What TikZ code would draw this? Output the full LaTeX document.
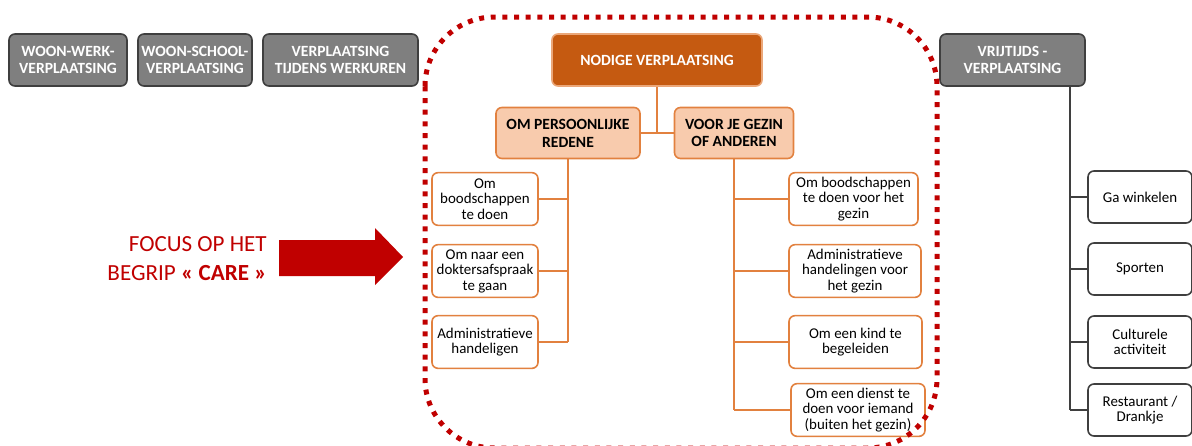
\documentclass[tikz,border=0pt]{standalone}
\usepackage{fontspec}
\setmainfont{Carlito}
\usepackage{xcolor}
\usetikzlibrary{arrows,shapes}

\definecolor{grijs}{HTML}{7F7F7F}
\definecolor{donkergrijs}{HTML}{3F3F3F}
\definecolor{donkeroranje}{HTML}{C55A11}
\definecolor{oranje}{HTML}{E2813F}
\definecolor{perzik}{HTML}{F8CBAD}
\definecolor{rood}{HTML}{C00000}

\tikzset{
  box/.style={rounded corners=4.5pt, line width=1.2pt, align=center, inner sep=0pt,
    font=\fontsize{11.2}{11.6}\selectfont},
  graybox/.style={box, draw=donkergrijs, fill=grijs, text=white,
    font=\bfseries\fontsize{11.7}{13.4}\selectfont, minimum height=39pt},
  mainbox/.style={box, draw=oranje!70, fill=donkeroranje, text=white,
    font=\bfseries\fontsize{11.7}{13.4}\selectfont, minimum height=39pt},
  subbox/.style={box, draw=oranje, fill=perzik,
    font=\bfseries\fontsize{11.7}{13.4}\selectfont, minimum height=38.25pt},
  itembox/.style={box, draw=oranje, fill=white, minimum height=39.5pt},
  vrijbox/.style={box, draw=donkergrijs, fill=white, minimum width=78pt, minimum height=39pt},
  link/.style={draw=oranje, line width=1.2pt},
  vrijlink/.style={draw=donkergrijs, line width=1pt},
  focus/.style={text=rood, align=right, inner sep=0pt, font=\fontsize{17.3}{21.7}\selectfont}
}

\begin{document}
\begin{tikzpicture}[x=0.75pt, y=-0.75pt]
  \useasboundingbox (0,0) rectangle (1192,446);
  \clip (0,0) rectangle (1192,446);

  % andere verplaatsingen
  \node[graybox, minimum width=88.5pt]  (ww) at (68,60)    {WOON-WERK-\\VERPLAATSING};
  \node[graybox, minimum width=85.5pt]  (ws) at (195,60)   {WOON-SCHOOL-\\VERPLAATSING};
  \node[graybox, minimum width=116.25pt] (wt) at (340.5,60) {VERPLAATSING\\TIJDENS WERKUREN};
  \node[graybox, minimum width=108.75pt] (vt) at (1012.5,60) {VRIJTIJDS -\\VERPLAATSING};

  % nodige verplaatsing
  \node[mainbox, minimum width=157.5pt] (nv) at (657,60) {NODIGE VERPLAATSING};
  \node[subbox, minimum width=108pt]    (op) at (568,133) {OM PERSOONLIJKE\\REDENE};
  \node[subbox, minimum width=89.25pt]  (vg) at (734,133) {VOOR JE GEZIN\\OF ANDEREN};

  \node[itembox, minimum width=79.5pt] (l1) at (485,199) {Om\\boodschappen\\te doen};
  \node[itembox, minimum width=79.5pt] (l2) at (485,271) {Om naar een\\doktersafspraak\\te gaan};
  \node[itembox, minimum width=79.5pt] (l3) at (485,342) {Administratieve\\handeligen};

  \node[itembox, minimum width=96.75pt] (r1) at (853.5,199) {Om boodschappen\\te doen voor het\\gezin};
  \node[itembox, minimum width=99pt]    (r2) at (855,271)   {Administratieve\\handelingen voor\\het gezin};
  \node[itembox, minimum width=99.75pt] (r3) at (855.5,342) {Om een kind te\\begeleiden};
  \node[itembox, minimum width=100.5pt] (r4) at (858,410)   {Om een dienst te\\doen voor iemand\\(buiten het gezin)};

  % vrije tijd
  \node[vrijbox] (g1) at (1140,197) {Ga winkelen};
  \node[vrijbox] (g2) at (1140,269) {Sporten};
  \node[vrijbox] (g3) at (1140,342) {Culturele\\activiteit};
  \node[vrijbox] (g4) at (1140,410) {Restaurant /\\Drankje};

  % verbindingen
  \draw[link] (nv.south) -- (nv.south |- op.east);
  \draw[link] (op.east) -- (vg.west);
  \draw[link] (op.south) -- (op.south |- l3.east);
  \foreach \n in {l1,l2,l3}
    \draw[link] (\n.east) -- (op.south |- \n.east);
  \draw[link] (vg.south) -- (vg.south |- r4.west);
  \foreach \n in {r1,r2,r3,r4}
    \draw[link] (\n.west) -- (vg.south |- \n.west);
  \coordinate (vs) at (1070,86);
  \draw[vrijlink] (vs) -- (vs |- g4.west);
  \foreach \n in {g1,g2,g3,g4}
    \draw[vrijlink] (\n.west) -- (vs |- \n.west);

  % focus op care
  \draw[rood, line width=3.75pt, dash pattern=on 3.75pt off 5pt, rounded corners=52pt]
    (425,17) rectangle (937,448);
  \fill[rood] (279,240) -- (375,240) -- (375,228) -- (403,257) -- (375,285) -- (375,276) -- (279,276) -- cycle;
  \node[focus, anchor=east] (fc) at (267,259) {FOCUS OP HET\\BEGRIP \textbf{« CARE »}};
\end{tikzpicture}
\end{document}
